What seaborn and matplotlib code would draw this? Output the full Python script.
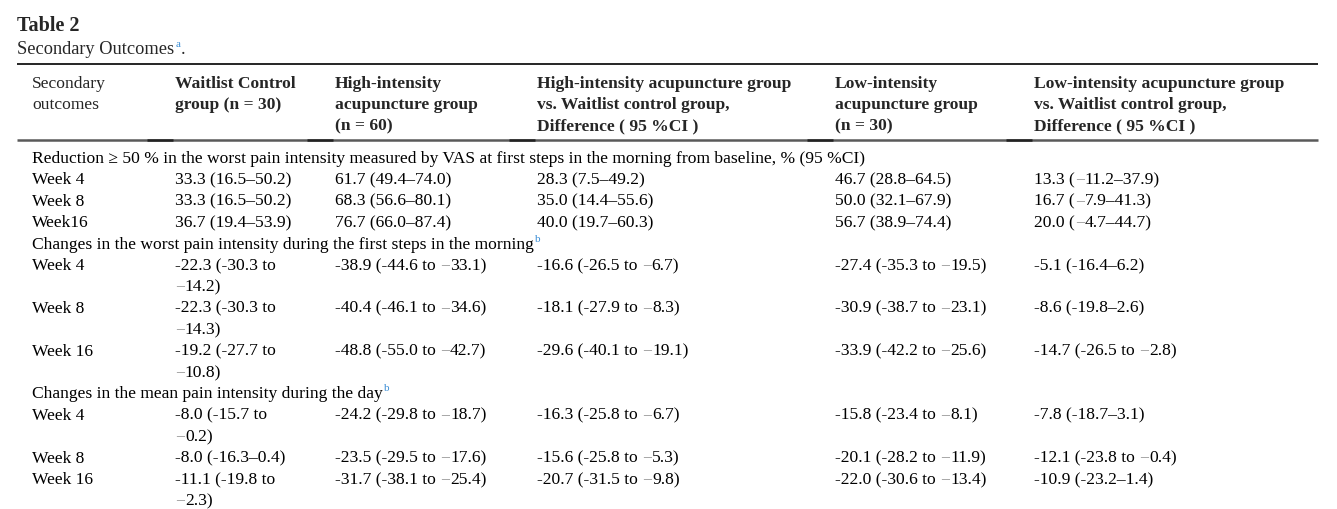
import textwrap
import matplotlib
matplotlib.use("Agg")
import matplotlib.pyplot as plt
import seaborn as sns

M = "\u2212"  # minus sign, drawn grey like in the source pdf

title = "Table 2"
subtitle = "Secondary Outcomes"
subtitle_note = "a"

header_cols = [
    "Secondary\noutcomes",
    "Waitlist Control\ngroup (n = 30)",
    "High-intensity\nacupuncture group\n(n = 60)",
    "High-intensity acupuncture group\nvs. Waitlist control group,\nDifference ( 95 %CI )",
    "Low-intensity\nacupuncture group\n(n = 30)",
    "Low-intensity acupuncture group\nvs. Waitlist control group,\nDifference ( 95 %CI )",
]
header_bold = [False, True, True, True, True, True]

section_titles = [
    "Reduction \u2265 50 % in the worst pain intensity measured by VAS at first steps in the morning from baseline, % (95 %CI)",
    "Changes in the worst pain intensity during the first steps in the morning",
    "Changes in the mean pain intensity during the day",
]
section_notes = ["", "b", "b"]

week_labels = [
    ["Week 4", "Week 8", "Week16"],
    ["Week 4", "Week 8", "Week 16"],
    ["Week 4", "Week 8", "Week 16"],
]
waitlist = [
    ["33.3 (16.5–50.2)", "33.3 (16.5–50.2)", "36.7 (19.4–53.9)"],
    ["-22.3 (-30.3 to " + M + "14.2)", "-22.3 (-30.3 to " + M + "14.3)", "-19.2 (-27.7 to " + M + "10.8)"],
    ["-8.0 (-15.7 to " + M + "0.2)", "-8.0 (-16.3–0.4)", "-11.1 (-19.8 to " + M + "2.3)"],
]
high = [
    ["61.7 (49.4–74.0)", "68.3 (56.6–80.1)", "76.7 (66.0–87.4)"],
    ["-38.9 (-44.6 to " + M + "33.1)", "-40.4 (-46.1 to " + M + "34.6)", "-48.8 (-55.0 to " + M + "42.7)"],
    ["-24.2 (-29.8 to " + M + "18.7)", "-23.5 (-29.5 to " + M + "17.6)", "-31.7 (-38.1 to " + M + "25.4)"],
]
high_diff = [
    ["28.3 (7.5–49.2)", "35.0 (14.4–55.6)", "40.0 (19.7–60.3)"],
    ["-16.6 (-26.5 to " + M + "6.7)", "-18.1 (-27.9 to " + M + "8.3)", "-29.6 (-40.1 to " + M + "19.1)"],
    ["-16.3 (-25.8 to " + M + "6.7)", "-15.6 (-25.8 to " + M + "5.3)", "-20.7 (-31.5 to " + M + "9.8)"],
]
low = [
    ["46.7 (28.8–64.5)", "50.0 (32.1–67.9)", "56.7 (38.9–74.4)"],
    ["-27.4 (-35.3 to " + M + "19.5)", "-30.9 (-38.7 to " + M + "23.1)", "-33.9 (-42.2 to " + M + "25.6)"],
    ["-15.8 (-23.4 to " + M + "8.1)", "-20.1 (-28.2 to " + M + "11.9)", "-22.0 (-30.6 to " + M + "13.4)"],
]
low_diff = [
    ["13.3 (" + M + "11.2–37.9)", "16.7 (" + M + "7.9–41.3)", "20.0 (" + M + "4.7–44.7)"],
    ["-5.1 (-16.4–6.2)", "-8.6 (-19.8–2.6)", "-14.7 (-26.5 to " + M + "2.8)"],
    ["-7.8 (-18.7–3.1)", "-12.1 (-23.8 to " + M + "0.4)", "-10.9 (-23.2–1.4)"],
]

# layout (pixel units, y grows downward)
W, H = 1337, 510
col_x = [32, 175, 335, 537, 835, 1034]
wrap_width = [None, 16, None, None, None, None]
rule_x0, rule_x1 = 17, 1318
line_h = 21.4
FS = 12.6
NOTE_COLOR = "#3d8fd6"
MINUS_COLOR = "#9a9a9a"

sns.set_theme(style="white")
plt.rcParams["font.family"] = ["Liberation Serif", "DejaVu Serif"]

fig = plt.figure(figsize=(W / 100, H / 100), dpi=100)
ax = fig.add_axes([0, 0, 1, 1])
ax.set_xlim(0, W)
ax.set_ylim(H, 0)
ax.axis("off")
renderer = fig.canvas.get_renderer()


def right_edge(t):
    bb = t.get_window_extent(renderer=renderer)
    return ax.transData.inverted().transform((bb.x1, bb.y0))[0]


def put(x, y, s, **kw):
    # draws a line of text, minus signs in grey
    parts = s.split(M)
    for i, p in enumerate(parts):
        if i > 0:
            t = ax.text(x, y, M, color=MINUS_COLOR, fontsize=FS, va="baseline", **kw)
            x = right_edge(t)
        if p:
            t = ax.text(x, y, p, color="black", fontsize=FS, va="baseline", **kw)
            x = right_edge(t)
    return x


def put_note(x, y, note):
    t = ax.text(x + 1, y - 7, note, color=NOTE_COLOR, fontsize=8, va="baseline")
    return right_edge(t)


ax.text(17, 31, title, fontsize=14.5, fontweight="bold", va="baseline")
t = ax.text(17, 54, subtitle, fontsize=13.2, va="baseline")
x_end = put_note(right_edge(t), 54, subtitle_note)
ax.text(x_end + 1, 54, ".", fontsize=13.2, va="baseline")

ax.plot([rule_x0, rule_x1], [65, 65], color="black", lw=1.2, solid_capstyle="butt")

base_off = 5
for cx, txt, bold in zip(col_x, header_cols, header_bold):
    for k, ln in enumerate(txt.split("\n")):
        ax.text(cx, 83 + 21 * k + base_off, ln, fontsize=FS, va="baseline",
                fontweight="bold" if bold else "normal")

ax.plot([rule_x0, rule_x1], [141, 141], color="#5a5a5a", lw=1.8, solid_capstyle="butt")
for cx in col_x[1:]:
    ax.plot([cx - 28, cx - 2], [141, 141], color="#222222", lw=1.8, solid_capstyle="butt")

y = 158
for si, sec in enumerate(section_titles):
    x_end = put(col_x[0], y + base_off, sec)
    if section_notes[si]:
        put_note(x_end, y + base_off, section_notes[si])
    y += line_h
    for ri, wk in enumerate(week_labels[si]):
        cells = [wk, waitlist[si][ri], high[si][ri], high_diff[si][ri], low[si][ri], low_diff[si][ri]]
        n_lines = 1
        for ci, cell in enumerate(cells):
            if wrap_width[ci]:
                lines = textwrap.wrap(cell, wrap_width[ci], break_on_hyphens=False)
            else:
                lines = [cell]
            for k, ln in enumerate(lines):
                put(col_x[ci], y + k * line_h + base_off, ln)
            n_lines = max(n_lines, len(lines))
        y += n_lines * line_h

fig.savefig("out.png", dpi=100, facecolor="white")
